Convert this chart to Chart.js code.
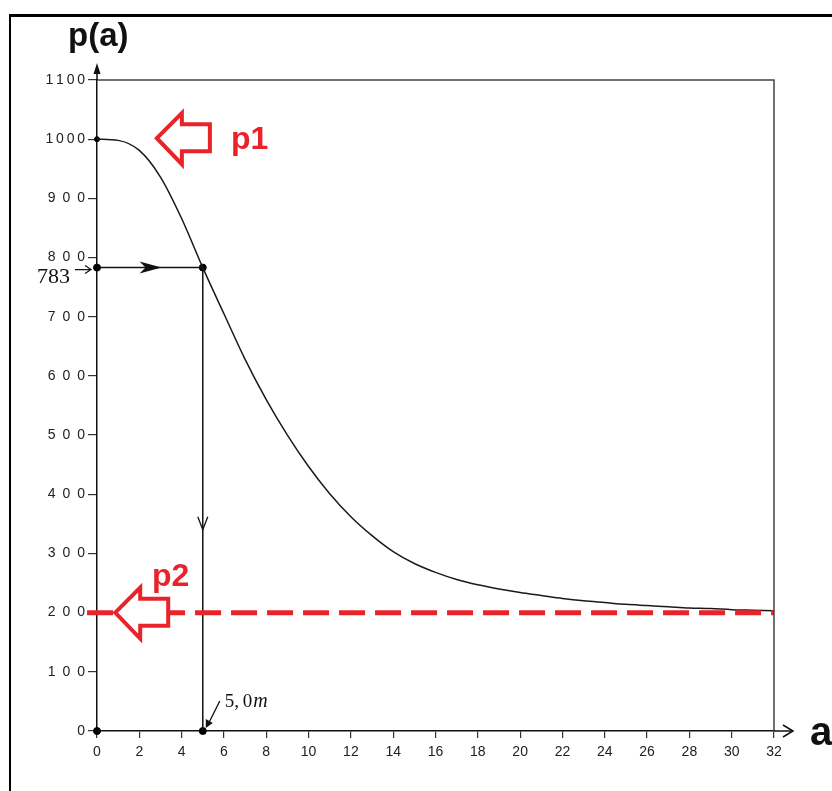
<!DOCTYPE html>
<html lang="pt-BR">
<head>
    <meta charset="UTF-8">
    <title>p(a)</title>
    <style>
        html, body {
            margin: 0;
            padding: 0;
            background: #fff;
        }
        /* moldura externa da figura */
        .moldura {
            position: absolute;
            left: 9px;
            top: 14px;
            width: 840px;
            height: 800px;
            border-left: 2px solid #000;
            border-top: 3px solid #000;
        }
        #grafico {
            position: absolute;
            left: 0;
            top: 0;
        }
    </style>
</head>
<body>
<div class="moldura"></div>
<canvas id="grafico" width="832" height="791"></canvas>

<script src="https://cdn.jsdelivr.net/npm/chart.js"></script>
<script>
    // curva p(a)
    const aVals = [0, 1, 2, 3, 4, 5, 6, 7, 8, 9, 10, 11, 12, 13, 14, 15, 16,
                   17, 18, 19, 20, 21, 22, 23, 24, 25, 26, 27, 28, 29, 30, 31, 32];
    const pVals = [1000, 998, 981, 936, 866, 783, 705, 628, 560, 500, 447, 401, 362, 330, 303, 283, 268,
                   256, 247, 240, 234, 229, 224, 220, 217, 214, 212, 210, 208, 207, 205, 204, 203];

    // leitura marcada no gráfico
    const leituraA = 5.0;
    const leituraP = 783;
    const p1 = 1000;
    const p2 = 200;

    // eixos
    const xTicks = [0, 32, 2];      // min, max, passo
    const yTicks = [0, 1100, 100];

    const curva = aVals.map((a, i) => ({ x: a, y: pVals[i] }));

    function espacar(v) {
        const s = String(v);
        if (s.length < 2) return s;
        return s.split('').join(v < 1000 ? '\u2002' : '\u2009');
    }

    function setaVazada(ctx, tx, ty) {
        // seta vermelha apontando para a esquerda, contorno com fundo branco
        ctx.beginPath();
        ctx.moveTo(tx, ty);
        ctx.lineTo(tx + 25, ty - 25);
        ctx.lineTo(tx + 25, ty - 14);
        ctx.lineTo(tx + 53, ty - 14);
        ctx.lineTo(tx + 53, ty + 13);
        ctx.lineTo(tx + 25, ty + 13);
        ctx.lineTo(tx + 25, ty + 26);
        ctx.closePath();
        ctx.fillStyle = '#fff';
        ctx.fill();
        ctx.lineWidth = 4;
        ctx.lineJoin = 'miter';
        ctx.strokeStyle = '#e8232a';
        ctx.stroke();
    }

    const extras = {
        id: 'extras',
        afterDatasetsDraw(chart) {
            const ctx = chart.ctx;
            const xs = chart.scales.x, ys = chart.scales.y;
            const area = chart.chartArea;
            const X = v => xs.getPixelForValue(v);
            const Y = v => ys.getPixelForValue(v);
            ctx.save();

            // moldura do gráfico (topo e lado direito)
            ctx.strokeStyle = '#444';
            ctx.lineWidth = 1.5;
            ctx.beginPath();
            ctx.moveTo(area.left, area.top);
            ctx.lineTo(area.right, area.top);
            ctx.lineTo(area.right, area.bottom);
            ctx.stroke();

            // prolongamento dos eixos com setas
            ctx.strokeStyle = '#111';
            ctx.fillStyle = '#111';
            ctx.beginPath();
            ctx.moveTo(area.left, area.top);
            ctx.lineTo(area.left, area.top - 14);
            ctx.moveTo(area.right, area.bottom);
            ctx.lineTo(area.right + 18, area.bottom);
            ctx.stroke();
            ctx.beginPath();
            ctx.moveTo(area.left, area.top - 17);
            ctx.lineTo(area.left - 3.5, area.top - 6);
            ctx.lineTo(area.left + 3.5, area.top - 6);
            ctx.closePath();
            ctx.fill();
            ctx.beginPath();
            ctx.moveTo(area.right + 9, area.bottom - 6);
            ctx.lineTo(area.right + 19, area.bottom);
            ctx.lineTo(area.right + 9, area.bottom + 6);
            ctx.stroke();

            // seta cheia na linha horizontal de 783
            const ty = Y(leituraP);
            const tx = X(3.05);
            ctx.beginPath();
            ctx.moveTo(tx, ty);
            ctx.lineTo(tx - 22, ty - 6);
            ctx.lineTo(tx - 16, ty);
            ctx.lineTo(tx - 22, ty + 6);
            ctx.closePath();
            ctx.fill();

            // seta para baixo na linha vertical
            const vx = X(leituraA), vy = Y(340);
            ctx.lineWidth = 1.3;
            ctx.beginPath();
            ctx.moveTo(vx - 5, vy - 13);
            ctx.lineTo(vx, vy);
            ctx.lineTo(vx + 5, vy - 13);
            ctx.stroke();

            // rótulo 783 com seta
            ctx.font = '22px "Liberation Serif", "DejaVu Serif", serif';
            ctx.textAlign = 'left';
            ctx.textBaseline = 'alphabetic';
            ctx.fillText(String(leituraP), 37, ty + 15);
            ctx.lineWidth = 1.2;
            ctx.beginPath();
            ctx.moveTo(75, ty + 2);
            ctx.lineTo(90, ty + 2);
            ctx.moveTo(85, ty - 2);
            ctx.lineTo(91, ty + 2);
            ctx.lineTo(85, ty + 6);
            ctx.stroke();

            // rótulo 5,0m com seta pequena
            const bx = X(leituraA), by = Y(0);
            ctx.font = '19px "Liberation Serif", "DejaVu Serif", serif';
            ctx.fillText('5,\u20090', bx + 22, by - 24);
            const w50 = ctx.measureText('5,\u20090').width;
            ctx.font = 'italic 20px "Liberation Serif", "DejaVu Serif", serif';
            ctx.fillText('m', bx + 23 + w50, by - 24);
            ctx.lineWidth = 1.3;
            ctx.beginPath();
            ctx.moveTo(bx + 17, by - 30);
            ctx.lineTo(bx + 6, by - 8);
            ctx.stroke();
            ctx.beginPath();
            ctx.moveTo(bx + 3, by - 3);
            ctx.lineTo(bx + 3, by - 12);
            ctx.lineTo(bx + 10, by - 8);
            ctx.closePath();
            ctx.fill();

            // setas vermelhas p1 e p2
            setaVazada(ctx, X(2.83), Y(p1) - 1);
            setaVazada(ctx, X(0.86), Y(p2));

            ctx.fillStyle = '#e8232a';
            ctx.font = 'bold 32px "Liberation Sans", Arial, sans-serif';
            ctx.fillText('p1', 231, Y(p1) + 10);
            ctx.fillText('p2', 152, Y(p2) - 27);

            // títulos dos eixos
            ctx.fillStyle = '#111';
            ctx.font = 'bold 33px "Liberation Sans", Arial, sans-serif';
            ctx.fillText('p(a)', 68, 46);
            ctx.font = 'bold 40px "Liberation Sans", Arial, sans-serif';
            ctx.fillText('a', 810, area.bottom + 14);

            ctx.restore();
        }
    };

    new Chart(document.getElementById('grafico').getContext('2d'), {
        type: 'scatter',
        data: {
            datasets: [
                {
                    // assíntota p2 (tracejada)
                    data: [{ x: -0.47, y: p2 }, { x: xTicks[1], y: p2 }],
                    showLine: true,
                    borderColor: '#e8232a',
                    borderWidth: 5,
                    borderDash: [26, 10],
                    pointRadius: 0,
                    clip: false
                },
                {
                    data: curva,
                    showLine: true,
                    borderColor: '#1a1a1a',
                    borderWidth: 1.5,
                    cubicInterpolationMode: 'monotone',
                    pointRadius: 0
                },
                {
                    data: [{ x: 0, y: leituraP }, { x: leituraA, y: leituraP }],
                    showLine: true,
                    borderColor: '#111',
                    borderWidth: 1.5,
                    pointRadius: 0
                },
                {
                    data: [{ x: leituraA, y: leituraP }, { x: leituraA, y: 0 }],
                    showLine: true,
                    borderColor: '#111',
                    borderWidth: 1.5,
                    pointRadius: 0
                },
                {
                    data: [
                        { x: 0, y: leituraP }, { x: leituraA, y: leituraP },
                        { x: 0, y: 0 }, { x: leituraA, y: 0 }, { x: 0, y: p1 }
                    ],
                    showLine: false,
                    pointRadius: [3.5, 3.5, 3.5, 3.5, 2.5],
                    backgroundColor: '#000',
                    borderColor: '#000',
                    clip: false
                }
            ]
        },
        options: {
            responsive: false,
            animation: false,
            layout: { padding: { left: 0, top: 80, right: 58, bottom: 0 } },
            plugins: {
                legend: { display: false },
                tooltip: { enabled: false }
            },
            scales: {
                x: {
                    type: 'linear',
                    min: xTicks[0],
                    max: xTicks[1],
                    afterFit: s => { s.height = 60; },
                    ticks: {
                        stepSize: xTicks[2],
                        padding: 6,
                        color: '#222',
                        font: { family: '"Liberation Sans", Arial, sans-serif', size: 14 },
                        maxRotation: 0
                    },
                    grid: { drawOnChartArea: false, drawTicks: true, tickLength: 7, color: '#333', lineWidth: 1.2 },
                    border: { display: true, color: '#111', width: 1.5 }
                },
                y: {
                    type: 'linear',
                    min: yTicks[0],
                    max: yTicks[1],
                    afterFit: s => { s.width = 97; },
                    ticks: {
                        stepSize: yTicks[2],
                        padding: 3,
                        color: '#222',
                        font: { family: '"Liberation Sans", Arial, sans-serif', size: 14 },
                        callback: v => espacar(v)
                    },
                    grid: { drawOnChartArea: false, drawTicks: true, tickLength: 9, color: '#333', lineWidth: 1.2 },
                    border: { display: true, color: '#111', width: 1.5 }
                }
            }
        },
        plugins: [extras]
    });
</script>
</body>
</html>
